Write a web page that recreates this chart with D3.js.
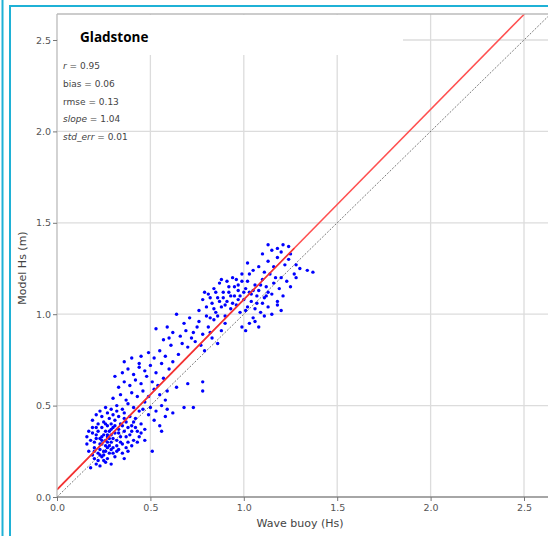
<!DOCTYPE html>
<html>
<head>
<meta charset="utf-8">
<script src="https://cdn.jsdelivr.net/npm/d3@7/dist/d3.min.js"></script>
<style>
    html, body { margin: 0; padding: 0; background: #fff; }
    svg { display: block; }
</style>
</head>
<body>
<div id="chart"></div>
<script>
'use strict';

// wave buoy Hs vs model Hs
var lowCluster = [
    [0.18,0.16],[0.21,0.18],[0.23,0.17],[0.26,0.19],[0.20,0.21],[0.24,0.22],[0.27,0.21],[0.29,0.18],[0.22,0.24],[0.17,0.25],
    [0.19,0.23],[0.25,0.25],[0.28,0.24],[0.31,0.22],[0.33,0.26],[0.30,0.27],[0.26,0.28],[0.23,0.29],[0.20,0.27],[0.16,0.29],
    [0.18,0.31],[0.21,0.32],[0.24,0.31],[0.27,0.33],[0.29,0.30],[0.32,0.31],[0.35,0.29],[0.37,0.27],[0.34,0.33],[0.31,0.35],
    [0.28,0.36],[0.25,0.34],[0.22,0.36],[0.19,0.35],[0.16,0.33],[0.24,0.38],[0.27,0.39],[0.30,0.38],[0.33,0.37],[0.36,0.36],
    [0.39,0.34],[0.41,0.31],[0.38,0.30],[0.43,0.36],[0.40,0.39],[0.37,0.41],[0.34,0.40],[0.31,0.42],[0.28,0.43],[0.25,0.41],
    [0.22,0.40],[0.19,0.42],[0.21,0.45],[0.24,0.44],[0.27,0.46],[0.30,0.45],[0.33,0.44],[0.36,0.46],[0.39,0.44],[0.42,0.43],
    [0.45,0.40],[0.47,0.37],[0.44,0.33],[0.26,0.31],[0.29,0.34],[0.32,0.28],[0.23,0.26],[0.20,0.30],[0.27,0.27],[0.30,0.24],
    [0.35,0.24],[0.25,0.20],[0.22,0.20],[0.28,0.32],[0.33,0.35],[0.26,0.36],[0.21,0.38],[0.35,0.39],[0.31,0.39],[0.29,0.40],
    [0.24,0.33],[0.19,0.38],[0.17,0.36],[0.38,0.38],[0.41,0.41],[0.49,0.45],[0.52,0.42],[0.55,0.39],[0.58,0.44],[0.51,0.25],
    [0.47,0.31],[0.56,0.36],[0.46,0.48],[0.23,0.47],[0.26,0.49],[0.20,0.25],[0.23,0.23],[0.26,0.25],[0.29,0.26],[0.32,0.25],
    [0.27,0.30],[0.24,0.29],[0.21,0.34],[0.26,0.40],[0.29,0.37],[0.34,0.30],[0.37,0.33],[0.40,0.36],[0.36,0.43],[0.32,0.47],
    [0.27,0.34],[0.23,0.32],[0.30,0.32],[0.28,0.28],[0.25,0.23],[0.40,0.28],[0.43,0.30],[0.45,0.35],[0.42,0.38],[0.38,0.25],
    [0.36,0.21]
];
var midCluster = [
    [0.29,0.48],[0.32,0.50],[0.35,0.48],[0.38,0.51],[0.41,0.49],[0.44,0.47],[0.47,0.52],[0.50,0.49],[0.53,0.47],[0.56,0.50],
    [0.59,0.48],[0.62,0.46],[0.68,0.49],[0.73,0.49],[0.30,0.54],[0.34,0.56],[0.37,0.53],[0.40,0.57],[0.43,0.55],[0.46,0.58],
    [0.49,0.55],[0.52,0.59],[0.55,0.56],[0.58,0.53],[0.33,0.60],[0.36,0.63],[0.39,0.61],[0.42,0.64],[0.45,0.62],[0.48,0.66],
    [0.51,0.63],[0.54,0.61],[0.57,0.65],[0.70,0.62],[0.78,0.63],[0.78,0.58],[0.31,0.66],[0.35,0.68],[0.38,0.70],[0.41,0.67],
    [0.44,0.71],[0.47,0.69],[0.50,0.72],[0.53,0.68],[0.56,0.73],[0.60,0.70],[0.36,0.74],[0.40,0.76],[0.45,0.77],[0.49,0.79],
    [0.52,0.76],[0.55,0.80],[0.58,0.77],[0.62,0.74],[0.65,0.78],[0.44,0.73],[0.59,0.58],[0.64,0.60]
];
var upperMidCluster = [
    [0.53,0.92],[0.57,0.86],[0.59,0.93],[0.61,0.83],[0.64,1.00],[0.66,0.88],[0.68,0.95],[0.70,0.82],[0.71,0.98],[0.73,0.90],
    [0.74,0.85],[0.76,0.96],[0.78,0.89],[0.79,0.80],[0.81,0.93],[0.83,0.87],[0.84,0.97],[0.86,0.84],[0.88,0.91],[0.90,0.95],
    [0.62,0.90],[0.67,0.84],[0.75,0.93],[0.80,0.99],[0.72,0.87],[0.86,0.99],[0.69,0.91],[0.77,0.83],[0.82,0.90],[0.60,0.87]
];
var upperCluster = [
    [0.76,1.02],[0.78,1.08],[0.80,1.04],[0.81,1.11],[0.82,0.98],[0.83,1.06],[0.84,1.14],[0.85,1.01],[0.86,1.09],[0.87,1.17],
    [0.88,1.04],[0.89,1.12],[0.90,0.99],[0.91,1.07],[0.92,1.15],[0.93,1.03],[0.94,1.20],[0.95,1.10],[0.96,1.05],[0.97,1.13],
    [0.98,1.01],[0.99,1.18],[1.00,1.08],[1.01,1.14],[1.02,1.04],[1.03,1.22],[1.04,1.11],[1.05,0.98],[1.06,1.16],[1.07,1.06],
    [1.08,1.13],[1.09,1.01],[1.10,1.19],[1.11,1.09],[1.12,1.15],[1.13,1.04],[1.14,1.22],[1.15,1.11],[1.16,1.17],[1.18,1.07],
    [1.19,1.14],[1.20,1.02],[0.99,0.93],[1.01,0.91],[1.03,0.95],[1.06,0.96],[1.08,0.93],[1.11,0.99],[1.15,1.00],[1.18,1.05],
    [0.85,1.12],[0.88,1.19],[0.90,1.05],[0.93,1.10],[0.95,1.15],[0.97,1.08],[1.00,1.12],[1.02,1.18],[1.04,1.07],[1.07,1.10],
    [1.09,1.16],[1.12,1.10],[0.92,1.12],[0.96,1.19],[0.98,1.10],[1.01,1.02],[1.05,1.13],[1.10,1.06],[0.87,1.07],[0.94,1.06],
    [0.82,1.09],[0.79,1.12],[0.84,1.03],[0.89,1.09],[0.97,1.16],[1.03,1.12],[1.06,1.03],[1.13,1.12],[1.17,1.20],[1.21,1.10],
    [0.91,1.18],[0.99,1.22],[1.05,1.24],[1.11,1.23],[1.16,1.26],[1.20,1.20],[1.23,1.18],[1.25,1.15],[1.27,1.22],[1.22,1.27],
    [1.02,1.28],[1.08,1.26],[1.13,1.29],[1.18,1.31],[1.24,1.30],[1.28,1.27],[1.10,1.33],[1.15,1.35],[1.20,1.34],[1.25,1.33],
    [1.13,1.38],[1.18,1.36],[1.21,1.38],[1.24,1.37],[1.28,1.20],[1.34,1.24],[1.37,1.23],[1.30,1.25]
];

var ticks = [0, 0.5, 1.0, 1.5, 2.0, 2.5];
var fit = { slope: 1.04, intercept: 0.04, xMax: 1.27 };
var statLines = [
    { key: 'r', italic: true, value: '0.95' },
    { key: 'bias', italic: false, value: '0.06' },
    { key: 'rmse', italic: false, value: '0.13' },
    { key: 'slope', italic: true, value: '1.04' },
    { key: 'std_err', italic: true, value: '0.01' }
];
var title = 'Gladstone';
var xLabel = 'Wave buoy (Hs)';
var yLabel = 'Model Hs (m)';

var samples = lowCluster.concat(midCluster, upperMidCluster, upperCluster);

var width = 548, height = 536;
var plot = { left: 57, top: 14, right: 548, bottom: 497 };

var svg = d3.select('#chart').append('svg')
    .attr('width', width)
    .attr('height', height);

svg.append('rect').attr('width', width).attr('height', height).attr('fill', '#fff');

var x = d3.scaleLinear().domain([0, 2.5]).range([57, 524]);
var y = d3.scaleLinear().domain([0, 2.5]).range([497, 40]);

svg.append('clipPath').attr('id', 'plotClip')
    .append('rect')
    .attr('x', plot.left).attr('y', plot.top)
    .attr('width', plot.right - plot.left).attr('height', plot.bottom - plot.top);

// grid
var grid = svg.append('g').attr('stroke', '#dcdcdc').attr('stroke-width', 1.3);
grid.selectAll('line.vx')
    .data(ticks.slice(1))
    .enter().append('line')
    .attr('x1', function(d) { return x(d); })
    .attr('x2', function(d) { return x(d); })
    .attr('y1', plot.top)
    .attr('y2', plot.bottom);
grid.selectAll('line.hy')
    .data(ticks.slice(1))
    .enter().append('line')
    .attr('x1', plot.left)
    .attr('x2', plot.right)
    .attr('y1', function(d) { return y(d); })
    .attr('y2', function(d) { return y(d); });

var marks = svg.append('g').attr('clip-path', 'url(#plotClip)');

// 1:1 line
marks.append('line')
    .attr('x1', x(0)).attr('y1', y(0))
    .attr('x2', x(2.8)).attr('y2', y(2.8))
    .attr('stroke', '#7a7a7a')
    .attr('stroke-width', 1)
    .attr('stroke-dasharray', '2,1.5');

marks.selectAll('circle')
    .data(samples)
    .enter().append('circle')
    .attr('cx', function(d) { return x(d[0]); })
    .attr('cy', function(d) { return y(d[1]); })
    .attr('r', 1.7)
    .attr('fill', '#0000ff');

// regression line, full extent then data range
var fitY = function(v) { return fit.slope * v + fit.intercept; };
marks.append('line')
    .attr('x1', x(0)).attr('y1', y(fitY(0)))
    .attr('x2', x(2.7)).attr('y2', y(fitY(2.7)))
    .attr('stroke', '#ff5050')
    .attr('stroke-width', 1.5);
marks.append('line')
    .attr('x1', x(0)).attr('y1', y(fitY(0)))
    .attr('x2', x(fit.xMax)).attr('y2', y(fitY(fit.xMax)))
    .attr('stroke', '#f02a2a')
    .attr('stroke-width', 1.5)
    .attr('opacity', 0.8);

// spines
svg.append('line')
    .attr('x1', plot.left).attr('x2', plot.right)
    .attr('y1', plot.top).attr('y2', plot.top)
    .attr('stroke', '#bbb').attr('stroke-width', 1.3);
svg.append('line')
    .attr('x1', plot.left).attr('x2', plot.left)
    .attr('y1', plot.top).attr('y2', plot.bottom)
    .attr('stroke', '#bbb').attr('stroke-width', 1.3);

var xAxis = svg.append('g')
    .attr('transform', 'translate(0,' + plot.bottom + ')')
    .call(d3.axisBottom(x).tickValues(ticks).tickFormat(d3.format('.1f')).tickSize(4).tickPadding(3));
var yAxis = svg.append('g')
    .attr('transform', 'translate(' + plot.left + ',0)')
    .call(d3.axisLeft(y).tickValues(ticks).tickFormat(d3.format('.1f')).tickSize(4).tickPadding(2));

xAxis.select('.domain').attr('d', 'M' + plot.left + ',0H' + plot.right).attr('stroke', '#888').attr('stroke-width', 1.3);
yAxis.select('.domain').remove();
[xAxis, yAxis].forEach(function(a) {
    a.selectAll('.tick line').attr('stroke', '#777');
    a.selectAll('.tick text')
        .attr('fill', '#555')
        .style('font-family', 'DejaVu Sans, sans-serif')
        .style('font-size', '9.5px');
});

// white patch with title
svg.append('rect')
    .attr('x', plot.left + 1).attr('y', plot.top + 1)
    .attr('width', 403 - plot.left - 1).attr('height', 55 - plot.top - 1)
    .attr('fill', '#fff');
svg.append('text')
    .attr('x', 80).attr('y', 42)
    .style('font-family', 'Open Sans, sans-serif')
    .style('font-weight', 'bold')
    .style('font-size', '13.5px')
    .attr('fill', '#000')
    .text(title);

var stats = svg.append('g')
    .style('font-family', 'DejaVu Sans, sans-serif')
    .style('font-size', '9px')
    .attr('fill', '#444');
stats.selectAll('text')
    .data(statLines)
    .enter().append('text')
    .attr('x', 63)
    .attr('y', function(d, i) { return 69 + i * 17.8; })
    .each(function(d) {
        var t = d3.select(this);
        t.append('tspan').style('font-style', d.italic ? 'italic' : 'normal').text(d.key);
        t.append('tspan').text(' = ' + d.value);
    });

svg.append('text')
    .attr('x', 300).attr('y', 527)
    .attr('text-anchor', 'middle')
    .style('font-family', 'DejaVu Sans, sans-serif')
    .style('font-size', '11px')
    .attr('fill', '#444')
    .text(xLabel);
svg.append('text')
    .attr('transform', 'translate(26,268) rotate(-90)')
    .attr('text-anchor', 'middle')
    .style('font-family', 'DejaVu Sans, sans-serif')
    .style('font-size', '11px')
    .attr('fill', '#444')
    .text(yLabel);

// cyan frame lines
var frame = svg.append('g').attr('stroke', '#1fb1d6').attr('stroke-width', 2);
frame.append('line').attr('x1', 2.5).attr('x2', 2.5).attr('y1', 0).attr('y2', height);
frame.append('line').attr('x1', 10).attr('x2', 10).attr('y1', 5).attr('y2', height);
frame.append('line').attr('x1', 9).attr('x2', width).attr('y1', 6).attr('y2', 6);
</script>
</body>
</html>
